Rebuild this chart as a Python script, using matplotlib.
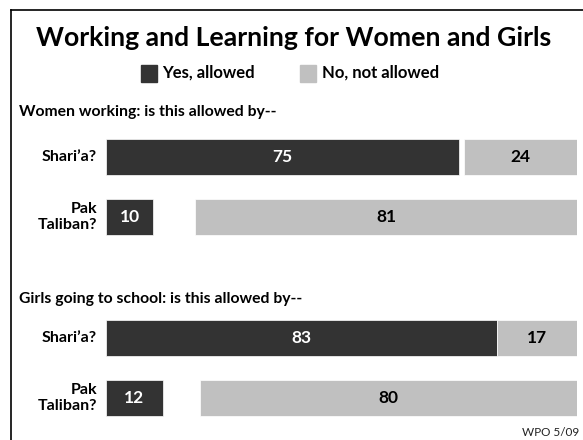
import matplotlib
matplotlib.use("Agg")
import matplotlib.pyplot as plt
from matplotlib.lines import Line2D

plt.rcParams['font.family'] = ['Lato', 'DejaVu Sans']

title = "Working and Learning for Women and Girls"
legend_labels = ["Yes, allowed", "No, not allowed"]
sections = ["Women working: is this allowed by--",
            "Girls going to school: is this allowed by--"]
categories = ["Shari\u2019a?", "Pak\nTaliban?"]
yes_women = [75, 10]
no_women = [24, 81]
yes_girls = [83, 12]
no_girls = [17, 80]
source = "WPO 5/09"

DARK = "#333333"
LIGHT = "#c0c0c0"

W, H = 583, 440
fig = plt.figure(figsize=(W / 100, H / 100), dpi=100)
fig.patch.set_facecolor("white")

def fx(px):
    return px / W

def fy(py):
    return 1 - py / H

# frame lines
fig.add_artist(Line2D([fx(11), fx(583)], [fy(10), fy(10)], color="black", lw=1.2))
fig.add_artist(Line2D([fx(11), fx(11)], [fy(10), fy(440)], color="black", lw=1.2))

fig.text(fx(294), fy(38), title, ha="center", va="center", fontsize=19.2, fontweight="bold")

# legend
fig.patches.append(plt.Rectangle((fx(141), fy(82)), fx(16), 17 / H, color=DARK, transform=fig.transFigure, figure=fig))
fig.text(fx(162), fy(73), legend_labels[0], ha="left", va="center", fontsize=12, fontweight="bold")
fig.patches.append(plt.Rectangle((fx(300), fy(82)), fx(16), 17 / H, color=LIGHT, transform=fig.transFigure, figure=fig))
fig.text(fx(322), fy(73), legend_labels[1], ha="left", va="center", fontsize=12, fontweight="bold")

# section headers
fig.text(fx(19), fy(112), sections[0], ha="left", va="center", fontsize=11.3, fontweight="bold")
fig.text(fx(19), fy(299), sections[1], ha="left", va="center", fontsize=11.3, fontweight="bold")

fig.text(fx(579), fy(432), source, ha="right", va="center", fontsize=8.5, color="#222222")

ax = fig.add_axes([fx(106), 0, (577 - 106) / W, 1])
ax.set_xlim(0, 100)
ax.set_ylim(H, 0)
ax.axis("off")

bar_h = 36
groups = [(yes_women, no_women, [157, 217]), (yes_girls, no_girls, [338, 398])]
for yes, no, centers in groups:
    for cat, y, n, yc in zip(categories, yes, no, centers):
        ax.barh(yc, y, left=0, height=bar_h, color=DARK, edgecolor="white", linewidth=0.5)
        ax.barh(yc, n, left=100 - n, height=bar_h, color=LIGHT, edgecolor="white", linewidth=0.5)
        ax.text(y / 2, yc, str(y), ha="center", va="center", color="white", fontsize=12.5, fontweight="bold")
        ax.text(100 - n / 2, yc, str(n), ha="center", va="center", color="black", fontsize=12.5, fontweight="bold")
        fig.text(fx(97), fy(yc), cat, ha="right", va="center", fontsize=11.5, fontweight="bold", linespacing=1.15)

fig.savefig("out.png", dpi=100)
